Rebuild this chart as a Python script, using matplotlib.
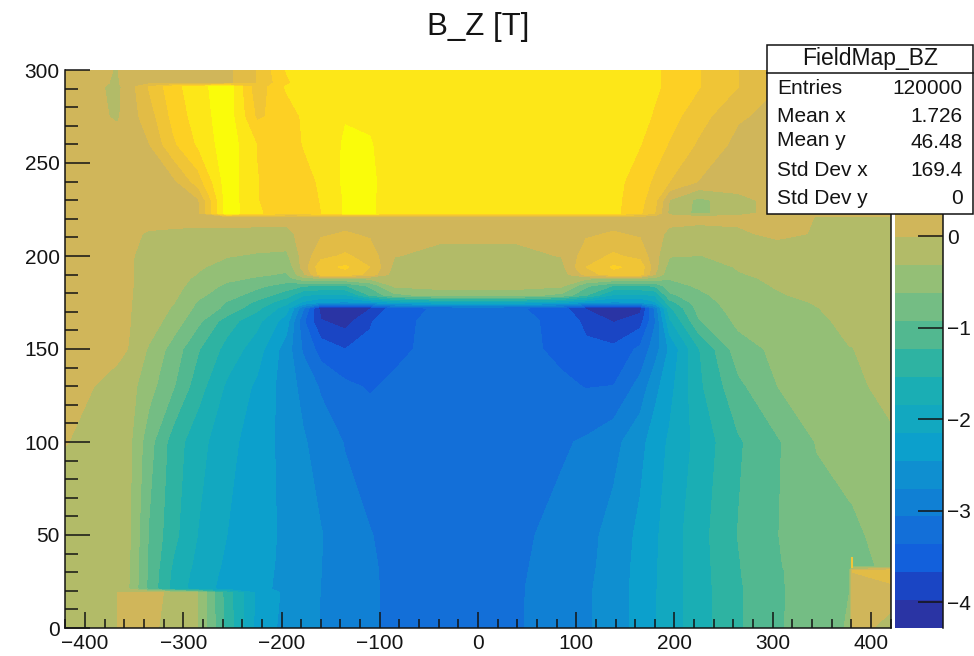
# -*- coding: utf-8 -*-
"""B_Z field map, ROOT COLZ look: 20 colour bands, stats box top right."""
import matplotlib
matplotlib.use("Agg")
import matplotlib.pyplot as plt
from matplotlib.colors import BoundaryNorm, ListedColormap
from matplotlib.patches import Rectangle
import numpy as np

plt.rcParams["font.family"] = ["Liberation Sans", "DejaVu Sans"]

W, H = 974, 656
INK = "#141414"

x_nodes = [-420, -367, -355, -335, -310, -285, -255, -225, -195, -178, -160, -135, -110, -85, -40,
           0, 40, 85, 110, 138, 165, 180, 195, 225, 265, 305, 345, 378, 381, 420]
y_nodes = [0, 19, 21, 31, 33, 50, 100, 130, 150, 165, 172, 175, 179, 184, 188, 190, 194, 200,
           212, 221, 223, 230, 240, 260, 275, 291, 293, 300]

# field values, one row per y node, bottom row first
bz_rows = [
    [-.25, -.01, .15, .05, -.1, -.32, -1.35, -2.25, -2.55, -2.66, -2.76, -2.9, -3.02, -3.12, -3.16,
     -3.2, -3.09, -2.9, -2.8, -2.62, -2.33, -2.17, -2.0, -1.67, -1.27, -.97, -.72, -.6, .1, -.1],
    [-.2, -.01, .05, .12, -.1, -.32, -1.4, -2.2, -2.52, -2.65, -2.76, -2.9, -3.02, -3.12, -3.18,
     -3.2, -3.09, -2.92, -2.8, -2.62, -2.33, -2.17, -2.0, -1.67, -1.27, -.97, -.74, -.62, .2, .1],
    [-.2, -.2, -.32, -1.0, -1.65, -2.0, -2.25, -2.38, -2.52, -2.65, -2.76, -2.9, -3.02, -3.12, -3.18,
     -3.2, -3.09, -2.92, -2.8, -2.62, -2.33, -2.17, -2.0, -1.67, -1.27, -.97, -.74, -.63, .25, .25],
    [-.2, -.2, -.31, -.98, -1.6, -1.95, -2.22, -2.37, -2.51, -2.64, -2.75, -2.91, -3.03, -3.12, -3.19,
     -3.21, -3.1, -2.94, -2.82, -2.63, -2.35, -2.18, -2.0, -1.66, -1.25, -.96, -.75, -.65, .3, .4],
    [-.2, -.2, -.3, -.97, -1.58, -1.93, -2.21, -2.36, -2.51, -2.64, -2.75, -2.91, -3.03, -3.12, -3.19,
     -3.21, -3.1, -2.95, -2.83, -2.63, -2.35, -2.18, -2.0, -1.66, -1.25, -.95, -.75, -.66, -.65, -.6],
    [-.2, -.2, -.28, -.95, -1.45, -1.85, -2.15, -2.35, -2.5, -2.62, -2.74, -2.92, -3.05, -3.13, -3.2,
     -3.22, -3.12, -2.97, -2.85, -2.65, -2.38, -2.2, -2.0, -1.65, -1.22, -.93, -.77, -.69, -.68, -.5],
    [0, -.15, -.25, -.8, -1.38, -1.73, -2.05, -2.3, -2.55, -2.72, -2.88, -3.08, -3.17, -3.2, -3.22,
     -3.22, -3.2, -3.1, -3.02, -2.85, -2.55, -2.3, -2.1, -1.74, -1.27, -.96, -.6, -.5, -.5, -.36],
    [.1, -.1, -.2, -.5, -.9, -1.4, -1.9, -2.2, -2.6, -2.85, -3.1, -3.3, -3.4, -3.3, -3.22,
     -3.22, -3.22, -3.3, -3.38, -3.36, -2.95, -2.55, -2.25, -1.6, -1.0, -.62, -.45, -.37, -.37, -.24],
    [.15, .05, -.02, -.35, -.75, -1.2, -1.65, -2.0, -2.6, -3.1, -3.5, -3.67, -3.6, -3.45, -3.25,
     -3.25, -3.25, -3.45, -3.6, -3.6, -3.3, -2.9, -2.4, -1.55, -.75, -.55, -.42, -.32, -.32, -.2],
    [.2, .07, 0, -.15, -.45, -.85, -1.4, -1.75, -2.3, -3.3, -3.95, -4.1, -3.7, -3.45, -3.28,
     -3.27, -3.28, -3.45, -3.75, -4.0, -3.8, -3.1, -1.9, -.95, -.55, -.45, -.35, -.27, -.27, -.15],
    [.2, .07, 0, -.1, -.35, -.7, -1.0, -1.45, -2.0, -3.0, -4.1, -4.2, -4.0, -3.5, -3.32,
     -3.3, -3.32, -3.55, -4.0, -4.2, -4.1, -3.0, -1.6, -.8, -.5, -.4, -.32, -.25, -.25, -.12],
    [.2, .07, 0, -.08, -.3, -.65, -.95, -1.3, -1.75, -2.2, -2.45, -2.5, -2.4, -2.15, -2.0,
     -2.0, -2.0, -2.15, -2.4, -2.5, -2.45, -2.2, -1.35, -.75, -.48, -.38, -.3, -.24, -.24, -.12],
    [.2, .07, 0, -.06, -.25, -.55, -.8, -1.05, -1.4, -1.8, -1.9, -1.9, -1.2, -.7, -.5,
     -.5, -.5, -.7, -1.2, -1.9, -1.9, -1.8, -1.0, -.68, -.45, -.33, -.27, -.22, -.22, -.1],
    [.2, .07, 0, -.05, -.2, -.45, -.68, -.85, -1.05, -1.2, -1.25, -1.25, -.85, -.25, -.2,
     -.2, -.2, -.25, -.85, -1.25, -1.25, -1.2, -.72, -.58, -.38, -.3, -.22, -.2, -.2, -.1],
    [.2, .07, 0, -.05, -.17, -.38, -.55, -.65, -.75, -.4, -.3, -.3, -.25, -.2, -.18,
     -.18, -.18, -.2, -.25, -.3, -.3, -.4, -.6, -.52, -.35, -.28, -.2, -.18, -.18, -.1],
    [.2, .07, 0, -.05, -.15, -.33, -.5, -.58, -.65, -.1, .75, .8, .5, -.18, -.18,
     -.18, -.18, -.18, .4, .8, .75, 0, -.55, -.48, -.33, -.26, -.2, -.17, -.17, -.1],
    [.2, .07, 0, -.05, -.13, -.28, -.42, -.5, -.55, .1, .8, .95, .6, -.1, -.13,
     -.13, -.13, -.1, .6, .95, .8, .1, -.45, -.42, -.3, -.24, -.18, -.15, -.15, -.08],
    [.2, .07, 0, -.04, -.1, -.2, -.3, -.35, -.38, .1, .5, .65, .45, 0, -.08,
     -.08, -.08, 0, .45, .65, .5, .1, -.3, -.32, -.27, -.18, -.13, -.1, -.1, -.05],
    [.22, .1, .03, -.03, -.05, -.08, -.1, -.1, -.1, .1, .25, .32, .25, .1, .05,
     .05, .05, .1, .25, .32, .25, .1, -.08, -.08, -.05, .05, -.03, -.04, -.04, -.04],
    [.22, .15, .1, .08, .08, .1, .15, .12, .1, .12, .15, .15, .15, .15, .15,
     .15, .15, .15, .15, .15, .15, .12, .1, .05, .05, .12, -.02, -.02, -.02, -.02],
    [.22, .2, .2, .2, .2, .22, 1.7, 1.25, 1.05, 1.05, 1.2, 1.55, 1.55, 1.4, 1.4,
     1.4, 1.4, 1.4, 1.4, 1.3, .95, .6, -.1, -.4, -.1, .1, .1, .1, .1, .1],
    [.22, .2, .2, .2, .2, .25, 1.7, 1.22, 1.05, 1.08, 1.22, 1.55, 1.55, 1.4, 1.4,
     1.4, 1.4, 1.4, 1.4, 1.3, 1.0, .7, -.02, -.4, -.1, .1, .1, .1, .1, .1],
    [.22, .2, .2, .2, .22, .75, 1.7, 1.22, 1.05, 1.1, 1.25, 1.58, 1.55, 1.42, 1.4,
     1.4, 1.4, 1.4, 1.4, 1.32, 1.05, .85, .6, .28, .15, .12, .12, .12, .12, .12],
    [.22, .12, .2, .28, .85, 1.25, 1.7, 1.2, 1.05, 1.22, 1.35, 1.55, 1.53, 1.4, 1.4,
     1.4, 1.4, 1.4, 1.4, 1.38, 1.22, 1.05, .88, .55, .2, .15, .15, .15, .15, .15],
    [.2, -.05, .15, .45, 1.0, 1.35, 1.7, .85, 1.05, 1.25, 1.38, 1.5, 1.48, 1.4, 1.4,
     1.4, 1.4, 1.4, 1.4, 1.4, 1.3, 1.18, 1.02, .72, .33, .2, .15, .15, .15, .15],
    [.2, -.08, .15, .62, 1.1, 1.4, 1.72, .7, 1.25, 1.4, 1.4, 1.4, 1.4, 1.4, 1.4,
     1.4, 1.4, 1.4, 1.4, 1.4, 1.35, 1.25, 1.15, .92, .6, .3, .2, .2, .2, .2],
    [.2, -.05, .2, .2, .2, .2, .22, .6, 1.15, 1.35, 1.4, 1.4, 1.4, 1.4, 1.4,
     1.4, 1.4, 1.4, 1.4, 1.4, 1.35, 1.25, 1.15, .92, .6, .3, .2, .2, .2, .2],
    [.2, -.03, .2, .2, .2, .2, .22, .6, 1.23, 1.4, 1.4, 1.4, 1.4, 1.4, 1.4,
     1.4, 1.4, 1.4, 1.4, 1.4, 1.35, 1.25, 1.15, .92, .6, .3, .2, .2, .2, .2],
]

# little spike sitting on the lower right block
spike_x = [380.5, 380.5]
spike_y = [32, 38]

z_min, z_max = -4.28, 1.82
n_bands = 20

# band colours taken from the palette column and the map, lowest band first
band_colors = ["#2a34a4", "#1a45c4", "#1260dc", "#136fd8", "#1080d4", "#0f8fd0", "#0ca0cc",
               "#12a8c0", "#1aaeb4", "#2eb3a2", "#52b890", "#74bd84", "#94bf76", "#b2bb68",
               "#d0b65a", "#e2bc46", "#f0c536", "#fdd024", "#fde718", "#fafc0a"]

x_major = [-400, -300, -200, -100, 0, 100, 200, 300, 400]
y_major = [0, 50, 100, 150, 200, 250, 300]
z_ticks = [-4, -3, -2, -1, 0]

stats_title = "FieldMap_BZ"
stats_names = ["Entries", "Mean x", "Mean y", "Std Dev x", "Std Dev y"]
stats_values = ["120000", "1.726", "46.48", "169.4", "0"]
stats_name_px = [88, 117, 141, 170, 198]
stats_value_px = [88, 116, 143, 170, 199]

band_cmap = ListedColormap(band_colors)
levels = np.linspace(z_min, z_max, n_bands + 1)
norm = BoundaryNorm(levels, n_bands)


def px_axes(fig, left, top, right, bottom):
    return fig.add_axes([left / W, 1 - bottom / H, (right - left) / W, (bottom - top) / H])


fig = plt.figure(figsize=(W / 100, H / 100), dpi=100, facecolor="white")

ax = px_axes(fig, 65.4, 70, 890.6, 628)
ax.contourf(x_nodes, y_nodes, np.array(bz_rows), levels=levels, cmap=band_cmap, norm=norm,
            extend="both", antialiased=False)
ax.plot(spike_x, spike_y, color="#f0c63a", linewidth=1.5, solid_capstyle="butt")
ax.set_xlim(-420, 420)
ax.set_ylim(0, 300)
ax.spines["top"].set_visible(False)
for name in ("left", "bottom", "right"):
    ax.spines[name].set_color(INK)
    ax.spines[name].set_linewidth(1.1)
ax.set_xticks(x_major)
ax.set_xticks(np.arange(-420, 421, 20), minor=True)
ax.set_yticks(y_major)
ax.set_yticks(np.arange(0, 301, 10), minor=True)
ax.tick_params(axis="x", which="major", direction="in", length=11.5, width=1.1, color=INK,
               labelsize=15, pad=4, labelcolor=INK)
ax.tick_params(axis="x", which="minor", direction="in", length=6.5, width=1.1, color=INK)
ax.tick_params(axis="y", which="major", direction="in", length=18, width=1.1, color=INK,
               labelsize=15, pad=4, labelcolor=INK)
ax.tick_params(axis="y", which="minor", direction="in", length=9, width=1.1, color=INK)

fig.text(478 / W, 1 - 27 / H, "B_Z [T]", ha="center", va="center", fontsize=22.5, color=INK)

# palette column on the right
cax = px_axes(fig, 895, 70, 943, 628)
cax.pcolormesh([0, 1], levels, np.arange(n_bands).reshape(-1, 1) + 0.5,
               cmap=band_cmap, vmin=0, vmax=n_bands)
cax.set_xticks([])
cax.set_ylim(z_min, z_max)
cax.yaxis.tick_right()
cax.set_yticks(z_ticks)
cax.tick_params(axis="y", direction="in", length=18, width=1.1, color=INK, labelsize=15, pad=3,
                labelcolor=INK)
for name in ("top", "left", "bottom"):
    cax.spines[name].set_visible(False)
cax.spines["right"].set_color(INK)
cax.spines["right"].set_linewidth(1.1)

# stats box, drawn over everything in pixel coordinates
box = fig.add_axes([0, 0, 1, 1], facecolor="none", zorder=5)
box.set_xlim(0, W)
box.set_ylim(H, 0)
box.axis("off")
box.add_patch(Rectangle((767, 45), 206, 169, facecolor="white", edgecolor="#111111", linewidth=1.1))
box.plot([767, 973], [73, 73], color="#111111", linewidth=1.1)
box.text(870, 59, stats_title, ha="center", va="center", fontsize=16.5, color=INK)
for name, value, yn, yv in zip(stats_names, stats_values, stats_name_px, stats_value_px):
    box.text(777, yn, name, ha="left", va="center", fontsize=15, color=INK)
    box.text(963, yv, value, ha="right", va="center", fontsize=15, color=INK)

fig.savefig("out.png", dpi=100, facecolor="white")
plt.close(fig)
